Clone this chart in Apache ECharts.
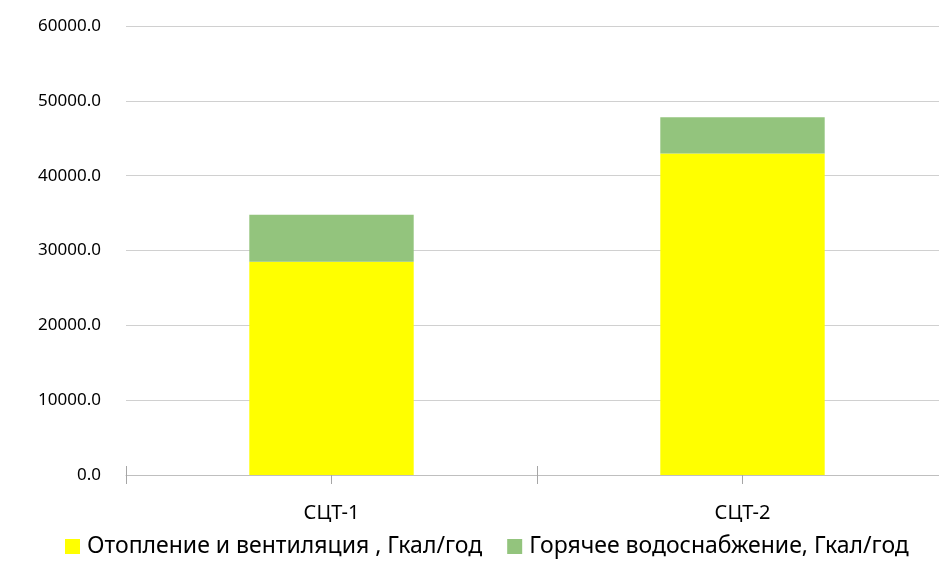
<!DOCTYPE html>
<html><head><meta charset="utf-8">
<script src="https://cdn.jsdelivr.net/npm/echarts@6/dist/echarts.min.js"></script>
<style>html,body{margin:0;padding:0;background:#fff;overflow:hidden}#c{width:960px;height:576px}</style>
</head><body><div id="c"></div>
<script>
const categories = ['СЦТ-1', 'СЦТ-2'];
const heating = [28500, 42960];
const hotWater = [6280, 4860];
const seriesNames = ['Отопление и вентиляция , Гкал/год', 'Горячее водоснабжение, Гкал/год'];
const colors = ['#FFFF00', '#93C47D'];
const FONT = 'Noto Sans';

const chart = echarts.init(document.getElementById('c'));
const hiddenAxis = (inside, align) => ({
  type: 'category', data: categories, boundaryGap: true, position: 'bottom', offset: 0,
  axisLine: {show: false, onZero: false}, axisLabel: {show: false}, splitLine: {show: false},
  axisTick: {show: true, inside: inside, alignWithLabel: align, length: 9, lineStyle: {color: '#a6a6a6'}}
});
chart.setOption({
  animation: false,
  textStyle: {fontFamily: FONT},
  grid: {left: 126, width: 822, top: 26, bottom: 101, containLabel: false},
  legend: {
    top: 530, left: 60, itemWidth: 15, itemHeight: 15, itemGap: 25,
    icon: 'rect',
    textStyle: {fontFamily: FONT, fontSize: 23, color: '#000', padding: [0, 0, 0, 2]},
    data: seriesNames
  },
  xAxis: [
    {type: 'category', data: categories, boundaryGap: true, position: 'bottom',
     axisLine: {show: true, lineStyle: {color: '#bfbfbf', width: 1}},
     axisTick: {show: true, length: 9, lineStyle: {color: '#a6a6a6'}},
     axisLabel: {fontFamily: FONT, fontSize: 20, color: '#000', margin: 28}},
    hiddenAxis(true, false),
    hiddenAxis(false, true)
  ],
  yAxis: {
    type: 'value', min: 0, max: 60000, interval: 10000,
    axisLine: {show: false}, axisTick: {show: false},
    splitLine: {lineStyle: {color: '#d0d0d0', width: 1}},
    axisLabel: {fontFamily: FONT, fontSize: 17, color: '#000', margin: 25,
      formatter: v => v.toFixed(1)}
  },
  series: [
    {name: seriesNames[0], type: 'bar', stack: 's', data: heating, barWidth: '40%',
     itemStyle: {color: colors[0]}},
    {name: seriesNames[1], type: 'bar', stack: 's', data: hotWater, barWidth: '40%',
     itemStyle: {color: colors[1]}}
  ]
});
</script></body></html>
